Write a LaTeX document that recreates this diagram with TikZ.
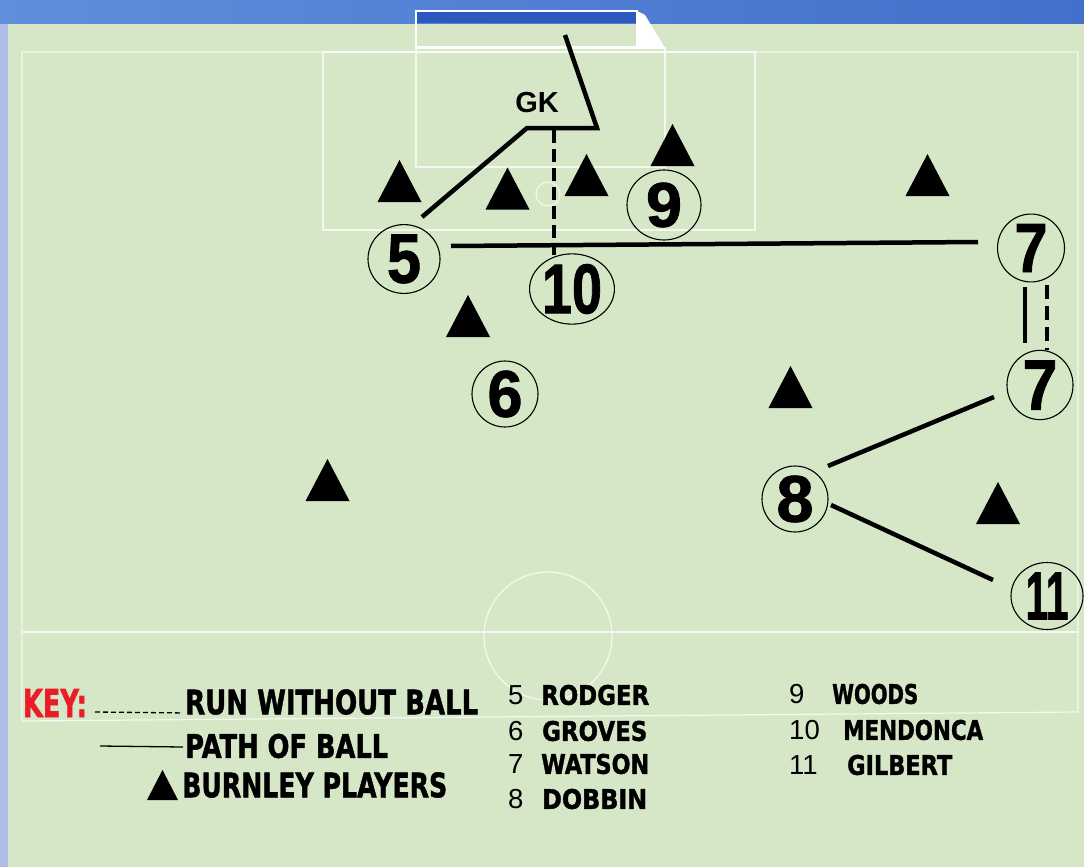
\documentclass[tikz,border=0pt]{standalone}
\usepackage{fontspec}
\setmainfont{Liberation Sans}
\newfontfamily\keyfont{DejaVu Sans}[BoldFeatures={FakeBold=1.6}]
\newfontfamily\bignum{Liberation Sans}[BoldFeatures={FakeBold=1.4}]
\usepackage{graphicx}
\usetikzlibrary{calc,shapes.geometric}
\definecolor{pitch}{RGB}{214,231,199}
\definecolor{hdrA}{RGB}{96,142,218}
\definecolor{hdrB}{RGB}{66,112,204}
\definecolor{goalblue}{RGB}{45,88,190}
\definecolor{strip}{RGB}{176,188,232}
\definecolor{keyred}{RGB}{234,28,40}
\newcommand\keytext[3]{\resizebox{#1pt}{#2pt}{\keyfont\bfseries #3}}
\newcommand\numtxt[3]{\resizebox{#1pt}{#2pt}{\bignum\bfseries #3}}
\begin{document}
\begin{tikzpicture}[x=1pt,y=-1pt,
  player/.style={ellipse, draw=black, line width=1.1pt, inner sep=0pt},
  ball/.style={line width=4.5pt},
  run/.style={line width=4.5pt, dash pattern=on 13pt off 6pt},
  tri/.style={fill=black},
  pline/.style={draw=white, line width=1.2pt, opacity=0.75},
  keyline/.style={line width=1.3pt},
  lbl/.style={anchor=west, inner sep=0pt},
  numl/.style={anchor=west, inner sep=0pt, font=\fontsize{27.5}{27.5}\selectfont},
]
\useasboundingbox (0,0) rectangle (1084,867);
\fill[pitch] (0,0) rectangle (1084,867);
\shade[left color=hdrA, right color=hdrB] (0,0) rectangle (1084,24);
\fill[strip] (0,24) rectangle (8,867);
% goal
\fill[goalblue] (416,12) rectangle (637,23);
\fill[white] (637,11) -- (645,15) -- (665,48) -- (637,48) -- cycle;
\draw[white, line width=2.5pt] (416,11) rectangle (637,47);
% pitch markings
\draw[pline] (22,52) -- (1078,52) -- (1078,712) -- (22,721) -- cycle;
\draw[pline] (22,632) -- (1078,632);
\draw[pline] (548,636) circle[radius=64];
\draw[pline] (323,52) rectangle (755,230);
\draw[pline] (416,48) rectangle (665,167);
\draw[pline] (548,194) circle[radius=12];
\draw[white, line width=2pt] (416,48) -- (665,48);
% players
\node[player, minimum width=72pt, minimum height=68pt] (p5) at (404,259) {\numtxt{34}{48}{5}};
\node[player, minimum width=75pt, minimum height=68pt] (p10) at (572,289) {\numtxt{60}{49}{10}};
\node[player, minimum width=74pt, minimum height=70pt] (p9) at (664,205) {\numtxt{36}{44}{9}};
\node[player, minimum width=66pt, minimum height=62pt] (p6) at (505,394) {\numtxt{35}{46}{6}};
\node[player, minimum width=67pt, minimum height=65pt] (p7a) at (1031,248) {\numtxt{33}{48}{7}};
\node[player, minimum width=66pt, minimum height=64pt] (p7b) at (1040,385) {\numtxt{35}{49}{7}};
\node[player, minimum width=66pt, minimum height=65pt] (p8) at (795,499) {\numtxt{37}{46}{8}};
\node[player, minimum width=72pt, minimum height=67pt] (p11) at (1047,596) {\numtxt{43}{47}{11}};
\node[inner sep=0pt, font=\bfseries\fontsize{29}{29}\selectfont] (gk) at (537,103) {GK};
% triangles (Burnley players)
\foreach \n/\x/\y in {t1/399.5/181, t2/507.5/188.5, t3/586.5/175, t4/672.5/145, t5/927.5/175, t6/468/316, t7/790.5/387, t8/327.5/480, t9/998/503}{
  \coordinate (\n) at (\x,\y);
  \fill[tri] ($(\n)+(-22,21)$) -- ($(\n)+(22,21)$) -- ($(\n)+(0,-21)$) -- cycle;
}
% moves
\coordinate (k1) at (527,128);
\coordinate (k2) at (597,128);
\coordinate (shot) at (565,35);
\coordinate (runtop) at (554,130);
\draw[ball, line join=miter] ($(p5.center)+(18,-42)$) -- (k1) -- (k2) -- (shot);
\draw[run] (runtop) -- ($(p10.center)+(-18,-34)$);
\draw[ball] ($(p5.center)+(47,-13)$) -- ($(p7a.center)+(-53,-6)$);
\draw[line width=4pt] ($(p7a.center)+(-6,39)$) -- ($(p7b.center)+(-15,-42)$);
\draw[line width=4pt, dash pattern=on 14pt off 7pt] ($(p7a.center)+(16,37)$) -- ($(p7b.center)+(7,-35)$);
\draw[ball] ($(p7b.center)+(-46,12)$) -- ($(p8.center)+(33,-33)$);
\draw[ball] ($(p8.center)+(36,6)$) -- ($(p11.center)+(-54,-16)$);
% key
\node[inner sep=0pt, text=keyred] (key) at (55,703) {\keytext{64}{28}{KEY:}};
\node[lbl] (krun) at (185,702) {\keytext{293}{25}{RUN WITHOUT BALL}};
\node[lbl] (kpath) at (185,746) {\keytext{203}{24}{PATH OF BALL}};
\node[lbl] (kbur) at (182,785) {\keytext{265}{25}{BURNLEY PLAYERS}};
\coordinate (kd) at (95,712);
\coordinate (ks) at (100,746);
\coordinate (kt) at (162.5,785);
\draw[keyline, dash pattern=on 5pt off 3pt] (kd) -- ($(krun.south west)+(-3,-2)$);
\draw[keyline] (ks) -- ($(kpath.west)+(-2,1)$);
\fill[tri] ($(kt)+(-15.5,15)$) -- ($(kt)+(15.5,15)$) -- ($(kt)+(0,-15)$) -- cycle;
% names
\node[numl] (n5) at (508,695) {5};
\node[lbl] (m5) at (541,695) {\keytext{108}{20}{RODGER}};
\node[numl] (n6) at (508,731) {6};
\node[lbl] (m6) at (542,731) {\keytext{105}{20}{GROVES}};
\node[numl] (n7) at (508,764) {7};
\node[lbl] (m7) at (541,764) {\keytext{108}{20}{WATSON}};
\node[numl] (n8) at (508,799) {8};
\node[lbl] (m8) at (542,799) {\keytext{105}{20}{DOBBIN}};
\node[numl] (n9) at (789,694) {9};
\node[lbl] (m9) at (832,694) {\keytext{86}{20}{WOODS}};
\node[numl] (n10) at (789,730) {10};
\node[lbl] (m10) at (843,730) {\keytext{140}{20}{MENDONCA}};
\node[numl] (n11) at (789,765) {11};
\node[lbl] (m11) at (847,765) {\keytext{105}{20}{GILBERT}};
\end{tikzpicture}
\end{document}
